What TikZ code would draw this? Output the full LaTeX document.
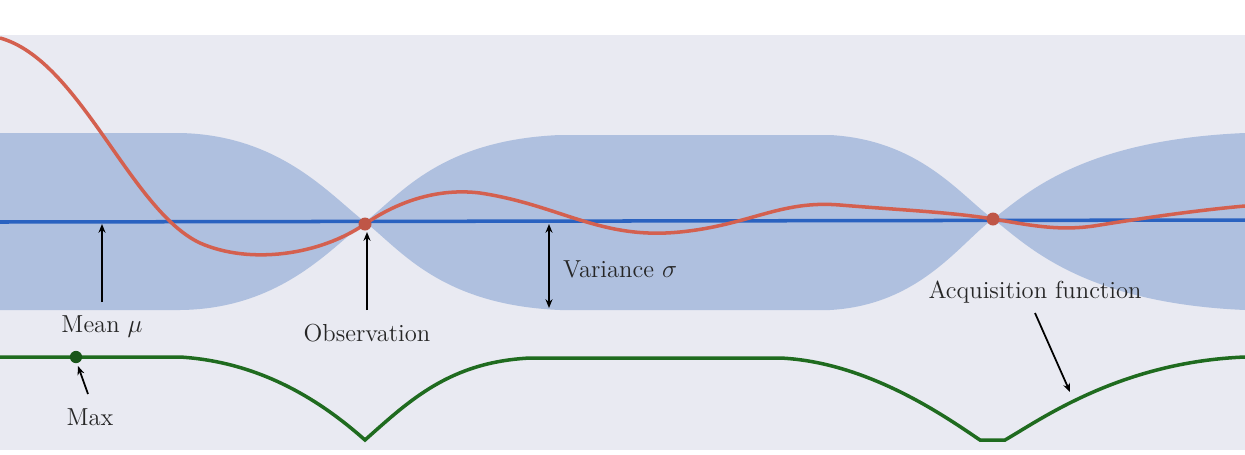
\documentclass[tikz,border=0pt]{standalone}
\usetikzlibrary{arrows.meta}
\definecolor{bg}{HTML}{E9EAF2}
\definecolor{band}{HTML}{AFC0DF}
\definecolor{meanc}{HTML}{2A62C0}
\definecolor{redc}{HTML}{D4604F}
\definecolor{greenc}{HTML}{1F6B1F}
\tikzset{lab/.style={font=\fontsize{14}{16}\selectfont, text=black!85},
  arr/.style={-{Stealth[length=5pt,width=4pt]}, line width=1pt}}
\begin{document}
\begin{tikzpicture}[x=0.02cm,y=-0.02cm]
\useasboundingbox (0,0) rectangle (1245,454);
\fill[white] (0,0) rectangle (1245,454);
\fill[bg] (0,35) rectangle (1245,450);
% band
\fill[band] (0,133) -- (180,133) .. controls (280,135) and (330,195) .. (365,222)
  .. controls (400,195) and (440,140) .. (560,135) -- (830,135)
  .. controls (920,140) and (960,195) .. (993,219)
  .. controls (1025,195) and (1080,140) .. (1245,133)
  -- (1245,310) .. controls (1080,303) and (1025,243) .. (993,219)
  .. controls (960,243) and (920,305) .. (830,310) -- (560,310)
  .. controls (440,305) and (400,249) .. (365,222)
  .. controls (330,249) and (280,309) .. (180,310) -- (0,310) -- cycle;
% mean
\draw[meanc, line width=2pt] (0,222) -- (1245,220);
% red
\draw[redc, line width=2pt] (0,38) .. controls (80,60) and (130,210) .. (200,243)
  .. controls (250,265) and (320,255) .. (365,224)
  .. controls (400,200) and (440,188) .. (480,193)
  .. controls (560,205) and (600,240) .. (680,232)
  .. controls (750,225) and (780,200) .. (840,205)
  .. controls (900,210) and (950,212) .. (993,219)
  .. controls (1030,225) and (1060,232) .. (1100,225)
  .. controls (1150,217) and (1200,210) .. (1245,206);
\fill[redc!90!black] (365,224) circle (6.5);
\fill[redc!90!black] (993,219) circle (6.5);
% green
\draw[greenc, line width=2pt] (0,357) -- (180,357)
  .. controls (260,362) and (320,400) .. (365,440)
  .. controls (410,400) and (450,362) .. (530,358) -- (780,358)
  .. controls (870,362) and (950,420) .. (980,440) -- (1005,440)
  .. controls (1040,420) and (1120,362) .. (1245,357);
\node[circle, fill=greenc!80!black, inner sep=0pt, minimum size=7pt] (mx) at (76,357) {};
% labels
\node[lab] (mean) at (102,327) {Mean $\mu$};
\node[lab] (obs) at (367,333) {Observation};
\node[lab] (var) at (620,269) {Variance $\sigma$};
\node[lab] (acq) at (1035,292) {Acquisition function};
\node[lab] (max) at (90,417) {Max};
\coordinate (m1) at (102,302); \coordinate (m2) at (102,224);
\coordinate (o1) at (367,310); \coordinate (o2) at (367,232);
\coordinate (v1) at (549,224); \coordinate (v2) at (549,308);
\coordinate (x1) at (88,394); \coordinate (x2) at (78,366);
\coordinate (a1) at (1035,313); \coordinate (a2) at (1070,392);
\draw[arr] (m1) -- (m2);
\draw[arr] (o1) -- (o2);
\draw[arr, {Stealth[length=5pt,width=4pt]}-{Stealth[length=5pt,width=4pt]}] (v1) -- (v2);
\draw[arr] (x1) -- (x2);
\draw[arr] (a1) -- (a2);
\end{tikzpicture}
\end{document}
